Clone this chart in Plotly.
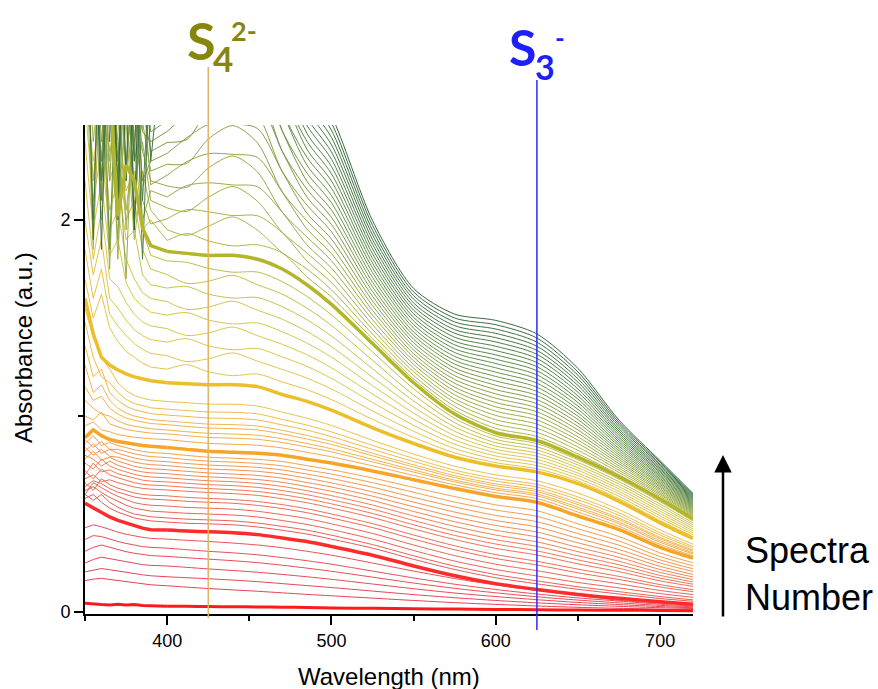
import plotly.graph_objects as go
from plotly.colors import sample_colorscale

# Wavelength grid of the recorded UV-vis spectra (nm)
wavelength_nm = [350, 355, 360, 365, 370, 375, 380, 385, 390,
                 400, 412, 425, 440, 455, 470, 485, 500, 525, 550, 575, 600, 625, 650, 675, 700, 720]

# Absorbance (a.u.) of each spectrum, in acquisition order, grouped by colour band
spectra_red = [
    [0.045, 0.040, 0.038, 0.036, 0.040, 0.036, 0.038, 0.034, 0.032, 0.030, 0.029, 0.028, 0.027, 0.026, 0.025, 0.023, 0.021, 0.019, 0.017, 0.015, 0.013, 0.012, 0.010, 0.009, 0.008, 0.007],
    [0.160, 0.168, 0.172, 0.166, 0.160, 0.154, 0.148, 0.143, 0.139, 0.134, 0.127, 0.120, 0.113, 0.106, 0.098, 0.090, 0.083, 0.071, 0.059, 0.048, 0.039, 0.031, 0.024, 0.019, 0.015, 0.012],
    [0.205, 0.215, 0.222, 0.216, 0.209, 0.202, 0.195, 0.190, 0.185, 0.180, 0.175, 0.170, 0.163, 0.155, 0.145, 0.135, 0.125, 0.107, 0.089, 0.073, 0.059, 0.047, 0.037, 0.029, 0.022, 0.018],
    [0.250, 0.268, 0.280, 0.272, 0.263, 0.255, 0.248, 0.242, 0.238, 0.235, 0.228, 0.220, 0.212, 0.203, 0.192, 0.180, 0.167, 0.143, 0.119, 0.097, 0.079, 0.063, 0.049, 0.038, 0.028, 0.022],
    [0.310, 0.330, 0.342, 0.330, 0.318, 0.308, 0.300, 0.293, 0.288, 0.284, 0.277, 0.270, 0.262, 0.252, 0.239, 0.224, 0.208, 0.178, 0.148, 0.121, 0.098, 0.078, 0.061, 0.047, 0.034, 0.027],
    [0.370, 0.390, 0.385, 0.372, 0.360, 0.350, 0.341, 0.334, 0.330, 0.326, 0.318, 0.310, 0.302, 0.292, 0.278, 0.262, 0.244, 0.209, 0.174, 0.142, 0.115, 0.092, 0.072, 0.056, 0.040, 0.031],
    [0.430, 0.445, 0.435, 0.420, 0.408, 0.397, 0.388, 0.381, 0.376, 0.372, 0.366, 0.360, 0.352, 0.342, 0.328, 0.310, 0.290, 0.250, 0.209, 0.171, 0.138, 0.110, 0.086, 0.060, 0.046, 0.036],
    [0.555, 0.530, 0.505, 0.485, 0.468, 0.455, 0.440, 0.428, 0.420, 0.418, 0.413, 0.410, 0.405, 0.395, 0.378, 0.360, 0.335, 0.290, 0.235, 0.185, 0.145, 0.115, 0.090, 0.070, 0.052, 0.040],
]

spectra_orange = [
    [0.58, 0.60, 0.56, 0.53, 0.51, 0.495, 0.48, 0.472, 0.465, 0.459, 0.453, 0.45, 0.445, 0.434, 0.417, 0.398, 0.372, 0.326, 0.269, 0.217, 0.175, 0.144, 0.116, 0.092, 0.069, 0.055],
    [0.60, 0.57, 0.60, 0.56, 0.535, 0.515, 0.50, 0.492, 0.486, 0.48, 0.474, 0.47, 0.465, 0.454, 0.437, 0.418, 0.392, 0.344, 0.287, 0.234, 0.191, 0.159, 0.129, 0.104, 0.079, 0.062],
    [0.62, 0.64, 0.61, 0.585, 0.565, 0.545, 0.53, 0.521, 0.515, 0.51, 0.504, 0.50, 0.495, 0.485, 0.467, 0.447, 0.421, 0.372, 0.314, 0.26, 0.217, 0.184, 0.151, 0.123, 0.094, 0.075],
    [0.60, 0.66, 0.635, 0.61, 0.59, 0.572, 0.558, 0.55, 0.545, 0.541, 0.534, 0.53, 0.525, 0.514, 0.497, 0.477, 0.45, 0.401, 0.342, 0.288, 0.244, 0.211, 0.175, 0.144, 0.11, 0.089],
    [0.64, 0.67, 0.655, 0.63, 0.612, 0.598, 0.587, 0.58, 0.576, 0.572, 0.565, 0.56, 0.555, 0.544, 0.528, 0.507, 0.48, 0.431, 0.372, 0.318, 0.273, 0.24, 0.2, 0.166, 0.128, 0.104],
    [0.66, 0.62, 0.68, 0.65, 0.632, 0.618, 0.607, 0.60, 0.596, 0.593, 0.585, 0.58, 0.574, 0.564, 0.548, 0.527, 0.50, 0.451, 0.393, 0.338, 0.293, 0.259, 0.219, 0.182, 0.14, 0.114],
    [0.68, 0.70, 0.665, 0.675, 0.66, 0.648, 0.638, 0.631, 0.627, 0.623, 0.616, 0.61, 0.604, 0.595, 0.578, 0.558, 0.531, 0.482, 0.424, 0.37, 0.325, 0.291, 0.246, 0.206, 0.159, 0.131],
    [0.72, 0.68, 0.73, 0.70, 0.685, 0.672, 0.66, 0.652, 0.648, 0.644, 0.636, 0.63, 0.624, 0.615, 0.599, 0.578, 0.552, 0.503, 0.445, 0.391, 0.347, 0.312, 0.266, 0.223, 0.173, 0.142],
    [0.70, 0.76, 0.715, 0.725, 0.705, 0.693, 0.681, 0.673, 0.668, 0.664, 0.657, 0.65, 0.645, 0.636, 0.62, 0.599, 0.573, 0.525, 0.467, 0.413, 0.369, 0.335, 0.287, 0.241, 0.187, 0.154],
    [0.76, 0.73, 0.78, 0.745, 0.728, 0.714, 0.702, 0.694, 0.689, 0.685, 0.677, 0.67, 0.665, 0.656, 0.641, 0.619, 0.594, 0.546, 0.49, 0.437, 0.393, 0.358, 0.308, 0.259, 0.202, 0.166],
    [0.80, 0.78, 0.745, 0.77, 0.748, 0.735, 0.723, 0.715, 0.71, 0.706, 0.697, 0.69, 0.684, 0.676, 0.662, 0.64, 0.616, 0.569, 0.513, 0.461, 0.417, 0.383, 0.33, 0.279, 0.217, 0.179],
    [0.78, 0.82, 0.775, 0.79, 0.77, 0.756, 0.744, 0.736, 0.731, 0.726, 0.718, 0.71, 0.704, 0.697, 0.683, 0.661, 0.638, 0.591, 0.537, 0.485, 0.442, 0.408, 0.353, 0.299, 0.233, 0.192],
    [0.84, 0.80, 0.83, 0.795, 0.79, 0.777, 0.765, 0.757, 0.752, 0.747, 0.738, 0.73, 0.725, 0.718, 0.704, 0.683, 0.659, 0.613, 0.561, 0.51, 0.467, 0.434, 0.376, 0.319, 0.25, 0.207],
    [0.82, 0.86, 0.81, 0.83, 0.81, 0.797, 0.786, 0.778, 0.772, 0.767, 0.758, 0.75, 0.745, 0.738, 0.725, 0.704, 0.681, 0.637, 0.585, 0.536, 0.493, 0.461, 0.40, 0.341, 0.266, 0.221],
    [0.88, 0.84, 0.87, 0.83, 0.83, 0.818, 0.807, 0.799, 0.793, 0.788, 0.778, 0.77, 0.765, 0.758, 0.746, 0.725, 0.704, 0.66, 0.611, 0.561, 0.52, 0.488, 0.425, 0.362, 0.283, 0.236],
    [0.86, 0.90, 0.85, 0.865, 0.85, 0.838, 0.828, 0.82, 0.814, 0.809, 0.799, 0.79, 0.785, 0.779, 0.768, 0.747, 0.726, 0.684, 0.636, 0.589, 0.547, 0.517, 0.45, 0.385, 0.302, 0.251],
    [0.89, 0.93, 0.90, 0.88, 0.87, 0.862, 0.855, 0.85, 0.846, 0.84, 0.83, 0.82, 0.815, 0.81, 0.80, 0.78, 0.76, 0.72, 0.675, 0.63, 0.59, 0.56, 0.49, 0.42, 0.33, 0.275],
]

spectra_yellow = [
    [0.95, 0.97, 0.93, 0.92, 0.905, 0.897, 0.892, 0.888, 0.884, 0.88, 0.87, 0.861, 0.856, 0.851, 0.837, 0.815, 0.792, 0.746, 0.697, 0.649, 0.609, 0.579, 0.51, 0.437, 0.345, 0.287],
    [1.0, 0.98, 1.02, 0.96, 0.945, 0.932, 0.924, 0.918, 0.913, 0.909, 0.9, 0.891, 0.887, 0.881, 0.865, 0.842, 0.817, 0.766, 0.714, 0.664, 0.623, 0.593, 0.525, 0.45, 0.356, 0.296],
    [1.08, 1.04, 1.01, 1.0, 0.975, 0.958, 0.948, 0.941, 0.935, 0.929, 0.92, 0.912, 0.908, 0.902, 0.884, 0.86, 0.833, 0.779, 0.725, 0.673, 0.632, 0.602, 0.535, 0.459, 0.364, 0.302],
    [1.15, 1.08, 1.1, 1.04, 1.01, 0.99, 0.978, 0.969, 0.962, 0.956, 0.947, 0.939, 0.936, 0.929, 0.909, 0.883, 0.855, 0.797, 0.74, 0.686, 0.644, 0.614, 0.548, 0.471, 0.374, 0.31],
    [1.26, 1.12, 1.16, 1.08, 1.04, 1.015, 1.0, 0.99, 0.982, 0.975, 0.967, 0.959, 0.956, 0.949, 0.927, 0.901, 0.871, 0.81, 0.751, 0.696, 0.654, 0.624, 0.558, 0.479, 0.381, 0.316],
    [1.36, 1.2, 1.24, 1.12, 1.08, 1.05, 1.032, 1.021, 1.012, 1.005, 0.998, 0.99, 0.988, 0.98, 0.955, 0.928, 0.895, 0.83, 0.768, 0.71, 0.668, 0.638, 0.573, 0.493, 0.393, 0.325],
    [1.48, 1.3, 1.2, 1.17, 1.12, 1.085, 1.064, 1.051, 1.042, 1.035, 1.028, 1.021, 1.019, 1.011, 0.983, 0.954, 0.919, 0.85, 0.784, 0.724, 0.681, 0.651, 0.587, 0.506, 0.404, 0.334],
    [1.55, 1.4, 1.3, 1.24, 1.17, 1.13, 1.105, 1.091, 1.082, 1.074, 1.068, 1.061, 1.06, 1.051, 1.02, 0.989, 0.952, 0.876, 0.806, 0.744, 0.7, 0.67, 0.607, 0.523, 0.419, 0.346],
    [1.60, 1.42, 1.30, 1.26, 1.235, 1.215, 1.20, 1.19, 1.18, 1.17, 1.165, 1.16, 1.16, 1.15, 1.11, 1.075, 1.03, 0.94, 0.86, 0.79, 0.745, 0.715, 0.655, 0.565, 0.455, 0.375],
]

spectra_olive = [
    [1.7, 1.5, 1.62, 1.45, 1.38, 1.33, 1.3, 1.27, 1.25, 1.239, 1.262, 1.226, 1.206, 1.215, 1.174, 1.135, 1.084, 0.983, 0.891, 0.812, 0.762, 0.731, 0.669, 0.578, 0.467, 0.385],
    [1.85, 1.6, 1.75, 1.52, 1.46, 1.41, 1.37, 1.34, 1.32, 1.308, 1.278, 1.292, 1.322, 1.28, 1.238, 1.194, 1.138, 1.026, 0.922, 0.834, 0.779, 0.747, 0.682, 0.59, 0.479, 0.395],
    [2.0, 1.72, 1.9, 1.6, 1.55, 1.49, 1.44, 1.41, 1.39, 1.377, 1.395, 1.358, 1.338, 1.345, 1.302, 1.254, 1.192, 1.069, 0.953, 0.856, 0.796, 0.763, 0.696, 0.603, 0.491, 0.405],
    [2.2, 1.8, 2.05, 1.7, 1.66, 1.58, 1.52, 1.48, 1.46, 1.446, 1.411, 1.424, 1.454, 1.41, 1.366, 1.313, 1.246, 1.112, 0.984, 0.878, 0.813, 0.779, 0.709, 0.615, 0.503, 0.415],
    [2.4, 1.95, 2.2, 1.82, 1.9, 1.68, 1.6, 1.56, 1.53, 1.515, 1.528, 1.49, 1.47, 1.475, 1.43, 1.373, 1.3, 1.155, 1.015, 0.9, 0.83, 0.795, 0.723, 0.628, 0.515, 0.425],
    [2.6, 2.1, 2.35, 1.95, 2.05, 1.8, 1.7, 1.63, 1.6, 1.584, 1.544, 1.556, 1.586, 1.54, 1.494, 1.432, 1.354, 1.198, 1.046, 0.922, 0.847, 0.811, 0.736, 0.64, 0.527, 0.435],
    [2.7, 2.3, 2.55, 2.05, 2.2, 1.9, 1.95, 1.72, 1.67, 1.653, 1.661, 1.622, 1.602, 1.605, 1.558, 1.492, 1.408, 1.241, 1.077, 0.944, 0.864, 0.827, 0.75, 0.653, 0.539, 0.445],
    [2.8, 2.5, 2.7, 2.2, 2.35, 2.0, 2.1, 1.85, 1.75, 1.722, 1.677, 1.688, 1.718, 1.67, 1.622, 1.551, 1.462, 1.284, 1.108, 0.966, 0.881, 0.843, 0.763, 0.665, 0.551, 0.455],
    [2.9, 2.6, 2.8, 2.35, 2.5, 2.15, 2.25, 1.95, 1.82, 1.791, 1.784, 1.754, 1.734, 1.735, 1.686, 1.611, 1.516, 1.327, 1.139, 0.988, 0.898, 0.859, 0.777, 0.678, 0.563, 0.465],
    [2.75, 2.80, 2.60, 2.70, 2.02, 2.28, 2.20, 1.96, 1.87, 1.84, 1.83, 1.82, 1.82, 1.80, 1.75, 1.67, 1.57, 1.37, 1.17, 1.01, 0.915, 0.875, 0.79, 0.69, 0.575, 0.475],
]

spectra_green = [
    [2.9, 2.2, 2.7, 1.9, 2.6, 2.05, 2.4, 1.95, 2.0, 1.896, 1.931, 1.894, 1.868, 1.874, 1.832, 1.711, 1.607, 1.394, 1.189, 1.03, 0.937, 0.896, 0.807, 0.701, 0.583, 0.48],
    [2.6, 2.8, 2.0, 2.7, 2.1, 2.5, 1.9, 2.25, 2.05, 1.951, 1.922, 1.968, 2.016, 1.948, 1.834, 1.751, 1.644, 1.418, 1.207, 1.049, 0.959, 0.917, 0.825, 0.712, 0.59, 0.485],
    [3.0, 1.85, 2.9, 2.3, 2.8, 1.95, 2.6, 2.1, 1.98, 2.007, 2.053, 2.042, 2.023, 2.022, 1.936, 1.792, 1.681, 1.442, 1.226, 1.069, 0.981, 0.938, 0.842, 0.723, 0.598, 0.49],
    [2.7, 2.95, 2.2, 2.8, 1.8, 2.7, 2.2, 2.4, 2.1, 2.062, 2.044, 2.116, 2.171, 2.096, 1.938, 1.833, 1.718, 1.466, 1.244, 1.088, 1.003, 0.959, 0.86, 0.734, 0.605, 0.495],
    [3.1, 2.4, 2.8, 1.75, 2.9, 2.3, 2.7, 2.0, 2.15, 2.118, 2.176, 2.19, 2.179, 2.17, 2.04, 1.874, 1.755, 1.491, 1.263, 1.108, 1.025, 0.98, 0.877, 0.746, 0.613, 0.5],
    [2.8, 3.0, 2.5, 2.9, 2.4, 1.7, 2.8, 2.35, 2.2, 2.174, 2.167, 2.265, 2.327, 2.245, 2.041, 1.914, 1.792, 1.515, 1.281, 1.128, 1.047, 1.001, 0.894, 0.757, 0.621, 0.505],
    [3.0, 2.6, 3.1, 2.2, 2.9, 2.6, 2.0, 2.7, 2.18, 2.229, 2.298, 2.339, 2.335, 2.319, 2.143, 1.955, 1.829, 1.539, 1.3, 1.147, 1.069, 1.022, 0.912, 0.768, 0.628, 0.51],
    [2.9, 3.1, 2.4, 3.0, 2.7, 2.9, 2.3, 2.5, 2.25, 2.285, 2.289, 2.413, 2.482, 2.393, 2.145, 1.996, 1.866, 1.563, 1.318, 1.167, 1.091, 1.042, 0.929, 0.779, 0.636, 0.515],
    [3.2, 2.7, 3.0, 2.6, 1.9, 3.0, 2.7, 2.2, 2.3, 2.34, 2.42, 2.487, 2.49, 2.467, 2.247, 2.036, 1.903, 1.587, 1.337, 1.186, 1.113, 1.063, 0.947, 0.79, 0.643, 0.52],
    [2.9, 3.0, 2.3, 3.1, 2.8, 2.5, 2.9, 2.6, 2.35, 2.396, 2.411, 2.561, 2.638, 2.541, 2.249, 2.077, 1.94, 1.611, 1.355, 1.206, 1.135, 1.084, 0.964, 0.801, 0.651, 0.525],
    [3.1, 2.5, 3.2, 2.8, 3.0, 2.2, 2.95, 2.45, 2.4, 2.452, 2.542, 2.635, 2.646, 2.615, 2.351, 2.118, 1.977, 1.635, 1.374, 1.226, 1.157, 1.105, 0.982, 0.812, 0.658, 0.53],
    [3.0, 3.2, 2.7, 3.0, 2.3, 3.1, 2.6, 2.9, 2.45, 2.507, 2.533, 2.709, 2.794, 2.689, 2.353, 2.158, 2.014, 1.659, 1.392, 1.245, 1.179, 1.126, 0.999, 0.823, 0.666, 0.535],
    [3.2, 2.9, 3.1, 1.85, 3.0, 2.8, 3.1, 2.5, 2.5, 2.563, 2.664, 2.783, 2.801, 2.763, 2.455, 2.199, 2.051, 1.683, 1.411, 1.265, 1.202, 1.147, 1.016, 0.834, 0.674, 0.54],
    [3.1, 3.3, 2.8, 3.2, 2.9, 3.0, 2.4, 2.95, 2.55, 2.618, 2.655, 2.857, 2.949, 2.837, 2.457, 2.24, 2.088, 1.707, 1.429, 1.284, 1.224, 1.168, 1.034, 0.846, 0.681, 0.545],
    [3.3, 2.0, 3.2, 3.0, 3.3, 2.7, 3.1, 2.8, 2.6, 2.674, 2.787, 2.932, 2.957, 2.912, 2.559, 2.281, 2.125, 1.732, 1.448, 1.304, 1.246, 1.189, 1.051, 0.857, 0.689, 0.55],
    [3.2, 3.3, 3.0, 3.3, 2.2, 3.2, 2.9, 3.1, 2.65, 2.73, 2.778, 3.006, 3.105, 2.986, 2.56, 2.321, 2.162, 1.756, 1.466, 1.324, 1.268, 1.21, 1.069, 0.868, 0.696, 0.555],
    [3.4, 3.1, 3.3, 2.9, 3.2, 3.0, 1.95, 2.9, 2.7, 2.785, 2.909, 3.08, 3.113, 3.06, 2.662, 2.362, 2.199, 1.78, 1.485, 1.343, 1.29, 1.231, 1.086, 0.879, 0.704, 0.56],
    [3.3, 3.4, 2.1, 3.3, 3.1, 3.3, 3.0, 3.2, 2.75, 2.841, 2.9, 3.154, 3.26, 3.134, 2.664, 2.403, 2.236, 1.804, 1.503, 1.363, 1.312, 1.252, 1.103, 0.89, 0.712, 0.565],
    [3.4, 3.2, 2.2, 3.1, 3.4, 2.5, 3.3, 3.0, 2.8, 2.896, 3.031, 3.228, 3.268, 3.208, 2.766, 2.443, 2.273, 1.828, 1.522, 1.382, 1.334, 1.273, 1.121, 0.901, 0.719, 0.57],
    [3.5, 3.4, 3.2, 3.4, 2.0, 3.3, 3.2, 2.1, 2.85, 2.952, 3.022, 3.302, 3.416, 3.282, 2.768, 2.484, 2.31, 1.852, 1.54, 1.402, 1.356, 1.294, 1.138, 0.912, 0.727, 0.575],
    [3.4, 3.5, 3.4, 2.4, 3.3, 3.4, 3.1, 1.8, 2.9, 3.008, 3.153, 3.376, 3.424, 3.356, 2.87, 2.525, 2.347, 1.876, 1.559, 1.422, 1.378, 1.315, 1.156, 0.923, 0.734, 0.58],
    [3.5, 1.9, 3.5, 3.4, 3.5, 3.2, 2.3, 3.4, 2.95, 3.063, 3.144, 3.45, 3.572, 3.43, 2.872, 2.565, 2.384, 1.9, 1.577, 1.441, 1.4, 1.335, 1.173, 0.934, 0.742, 0.585],
    [3.6, 3.5, 2.6, 3.5, 3.4, 3.5, 3.4, 3.3, 2.3, 3.119, 3.275, 3.524, 3.579, 3.504, 2.974, 2.606, 2.421, 1.924, 1.596, 1.461, 1.422, 1.356, 1.19, 0.946, 0.75, 0.59],
    [3.5, 3.6, 1.85, 3.3, 3.6, 2.2, 3.5, 3.4, 3.05, 3.174, 3.266, 3.598, 3.727, 3.578, 2.976, 2.647, 2.458, 1.948, 1.614, 1.48, 1.444, 1.377, 1.208, 0.957, 0.757, 0.595],
    [3.6, 2.8, 3.6, 3.5, 2.05, 3.6, 3.4, 2.6, 3.1, 3.23, 3.398, 3.673, 3.735, 3.653, 3.078, 2.688, 2.495, 1.973, 1.633, 1.5, 1.466, 1.398, 1.225, 0.968, 0.765, 0.6],
    [3.7, 3.6, 3.5, 2.7, 3.6, 3.5, 1.95, 3.5, 3.15, 3.286, 3.389, 3.747, 3.883, 3.727, 3.079, 2.728, 2.532, 1.997, 1.651, 1.52, 1.488, 1.419, 1.243, 0.979, 0.772, 0.605],
]

# Spectra drawn with a heavy stroke (indices in acquisition order)
highlighted = [0, 7, 24, 33, 43]

# Characteristic polysulfide absorption wavelengths (nm)
S4_NM = 425
S3_NM = 625

X_RANGE = [350, 720]
Y_RANGE = [-0.01, 2.485]

# The noisy, saturated UV edge is drawn as straight segments; from 400 nm on a smoothed curve
UV_EDGE_NM = 400

spectra = spectra_red + spectra_orange + spectra_yellow + spectra_olive + spectra_green
n_spectra = len(spectra)
split = wavelength_nm.index(UV_EDGE_NM)

thin_scale = [
    [0.00, "#e8344a"], [0.10, "#ea4a4c"], [0.22, "#f0704e"], [0.34, "#f4a044"],
    [0.47, "#ecc040"], [0.55, "#d6c444"], [0.62, "#b8b840"], [0.72, "#8ea442"],
    [0.85, "#5c8a42"], [1.00, "#2e6238"],
]
thin_colors = sample_colorscale(thin_scale, [k / (n_spectra - 1) for k in range(n_spectra)])
bold_colors = {0: "#ff1a1a", 7: "#ff2a2a", 24: "#f5a52a", 33: "#ecbf2a", 43: "#b3b52a"}

fig = go.Figure()


def add_spectrum(absorbance, color, width, opacity=1.0):
    # UV edge: raw segments
    fig.add_trace(go.Scatter(
        x=wavelength_nm[:split + 1], y=absorbance[:split + 1], mode="lines",
        line=dict(color=color, width=width), opacity=opacity,
        hoverinfo="skip", showlegend=False,
    ))
    # visible range: smooth curve through the same points
    fig.add_trace(go.Scatter(
        x=wavelength_nm[split:], y=absorbance[split:], mode="lines",
        line=dict(color=color, width=width, shape="spline", smoothing=0.8), opacity=opacity,
        hoverinfo="skip", showlegend=False,
    ))


for k, absorbance in enumerate(spectra):
    if k not in highlighted:
        add_spectrum(absorbance, thin_colors[k], 1, 0.95)

for k in highlighted:
    add_spectrum(spectra[k], bold_colors[k], 3.5 if k else 3)

# Plot-area geometry in pixels (for placing labels outside the axes)
W, H = 878, 689
ML, MR, MT, MB = 85, 185, 125, 75
PW, PH = W - ML - MR, H - MT - MB


def px(xpix):
    return (xpix - ML) / PW


def py(ypix):
    return (H - MB - ypix) / PH


def frac_x(nm):
    return (nm - X_RANGE[0]) / (X_RANGE[1] - X_RANGE[0])


# marker lines for the S4(2-) and S3(-) bands
fig.add_shape(type="line", xref="paper", yref="paper",
              x0=frac_x(S4_NM), x1=frac_x(S4_NM), y0=py(618), y1=py(67),
              line=dict(color="#e2b560", width=1.5))
fig.add_shape(type="line", xref="paper", yref="paper",
              x0=frac_x(S3_NM), x1=frac_x(S3_NM), y0=py(630), y1=py(80),
              line=dict(color="#2a2aff", width=1.5))

OLIVE = "#86860c"
BLUE = "#1e1eff"
label_font = "Lato, 'Open Sans', sans-serif"


def label(text, xpix, ycenter, size, color):
    fig.add_annotation(text=f"<b>{text}</b>", xref="paper", yref="paper",
                       x=px(xpix), y=py(ycenter), xanchor="left", yanchor="middle",
                       showarrow=False, font=dict(family=label_font, size=size, color=color))


label("S", 185, 40, 52, OLIVE)
label("4", 211, 58, 35, OLIVE)
label("2-", 229, 31, 27, OLIVE)

label("S", 507, 47, 50, BLUE)
label("3", 533, 66, 34, BLUE)
label("-", 553, 38, 26, BLUE)

# axis titles
fig.add_annotation(text="Wavelength (nm)", xref="paper", yref="paper",
                   x=0.5, y=py(676), xanchor="center", yanchor="middle",
                   showarrow=False, font=dict(size=24))
fig.add_annotation(text="Absorbance (a.u.)", xref="paper", yref="paper",
                   x=px(23), y=py(348), xanchor="center", yanchor="middle",
                   textangle=-90, showarrow=False, font=dict(size=24))

# spectra-number arrow and caption
fig.add_annotation(text="", xref="paper", yref="paper", x=px(723), y=py(455),
                   showarrow=True, ax=0, ay=163, arrowhead=2, arrowsize=1.4,
                   arrowwidth=2.5, arrowcolor="black", standoff=0)
fig.add_annotation(text="Spectra<br>Number", xref="paper", yref="paper",
                   x=px(743), y=py(574), xanchor="left", yanchor="middle", align="left",
                   showarrow=False, font=dict(size=36))

axis_common = dict(
    ticks="outside", ticklen=9, tickwidth=2, tickcolor="black",
    showline=True, linewidth=2, linecolor="black",
    showgrid=False, zeroline=False, tickfont=dict(size=18, color="black"),
)

fig.update_xaxes(range=X_RANGE, tickvals=[400, 500, 600, 700],
                 minor=dict(tickvals=[350, 450, 550, 650], ticks="outside", ticklen=5,
                            tickwidth=2, tickcolor="black", showgrid=False),
                 **axis_common)
fig.update_yaxes(range=Y_RANGE, tickvals=[0, 2],
                 minor=dict(tickvals=[1], ticks="outside", ticklen=5,
                            tickwidth=2, tickcolor="black", showgrid=False),
                 **axis_common)

fig.update_layout(
    width=W, height=H, autosize=False,
    margin=dict(l=ML, r=MR, t=MT, b=MB),
    paper_bgcolor="white", plot_bgcolor="white",
    showlegend=False,
    font=dict(family="'Liberation Sans', Arial, sans-serif", color="black"),
)

fig.write_html("out.html")
